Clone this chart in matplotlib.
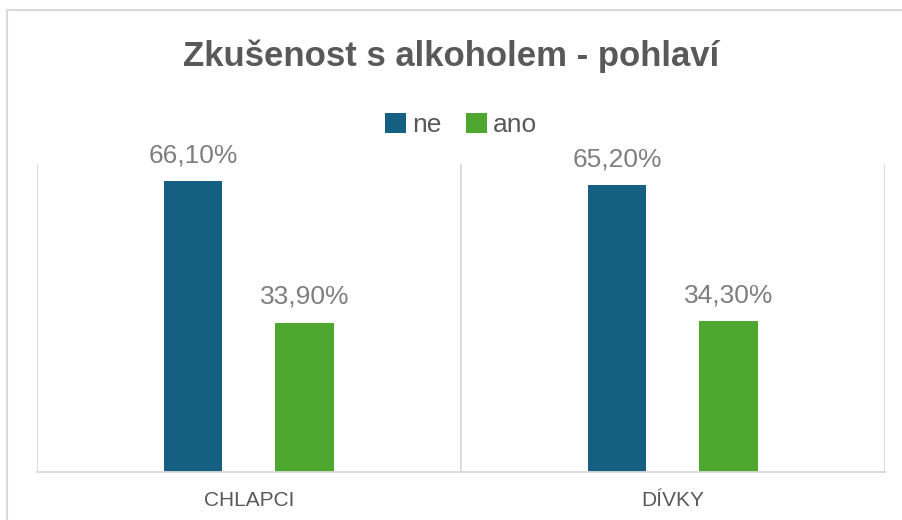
import matplotlib
matplotlib.use("Agg")
import matplotlib.pyplot as plt
import numpy as np
from matplotlib.patches import Rectangle

# data
categories = ["CHLAPCI", "DÍVKY"]
series_names = ["ne", "ano"]
ne_values = [66.10, 65.20]
ano_values = [33.90, 34.30]
colors = ["#156082", "#4EA72E"]

plt.rcParams['font.family'] = ['Liberation Sans', 'DejaVu Sans']

fig = plt.figure(figsize=(9.03, 5.20), dpi=100)
fig.patch.set_facecolor("white")

# outer chart border (light gray frame, running off the right/bottom edge)
fig.add_artist(Rectangle((7 / 903, -0.05), 1.0, 0.05 + (520 - 10) / 520,
                         transform=fig.transFigure, fill=False,
                         edgecolor="#d9d9d9", linewidth=1.5))

ax = fig.add_axes([37 / 903, (520 - 472) / 520, (885 - 37) / 903, (472 - 164) / 520])

x = np.arange(len(categories))
width = 0.137
offset = 0.131

bars_ne = ax.bar(x - offset, ne_values, width, color=colors[0], label=series_names[0])
bars_ano = ax.bar(x + offset, ano_values, width, color=colors[1], label=series_names[1])

def fmt(v):
    return f"{v:.2f}".replace(".", ",") + "%"

for bars, vals in [(bars_ne, ne_values), (bars_ano, ano_values)]:
    ax.bar_label(bars, labels=[fmt(v) for v in vals], padding=10,
                 fontsize=19, color="#7f7f7f")

ax.set_xlim(-0.5, len(categories) - 0.5)
ax.set_ylim(0, 70)

# category separators
for b in np.arange(-0.5, len(categories), 1.0):
    ax.axvline(b, color="#d9d9d9", linewidth=1.3, zorder=0)

for side in ["top", "left", "right"]:
    ax.spines[side].set_visible(False)
ax.spines["bottom"].set_color("#d9d9d9")
ax.spines["bottom"].set_linewidth(1.3)

ax.set_yticks([])
ax.set_xticks(x)
ax.set_xticklabels(categories, fontsize=15, color="#595959")
ax.tick_params(axis="x", length=0, pad=14)

ax.legend(loc="center", bbox_to_anchor=(0.5, (125 - 164) / -308 + 1.0),
          ncol=2, frameon=False, fontsize=19, handlelength=0.8, handleheight=0.8,
          handletextpad=0.25, columnspacing=0.9, labelcolor="#595959",
          bbox_transform=ax.transAxes)

fig.text(0.5, 1 - 56 / 520, "Zkušenost s alkoholem - pohlaví", ha="center", va="center",
         fontsize=25, fontweight="bold", color="#595959")

fig.savefig("out.png", dpi=100)
